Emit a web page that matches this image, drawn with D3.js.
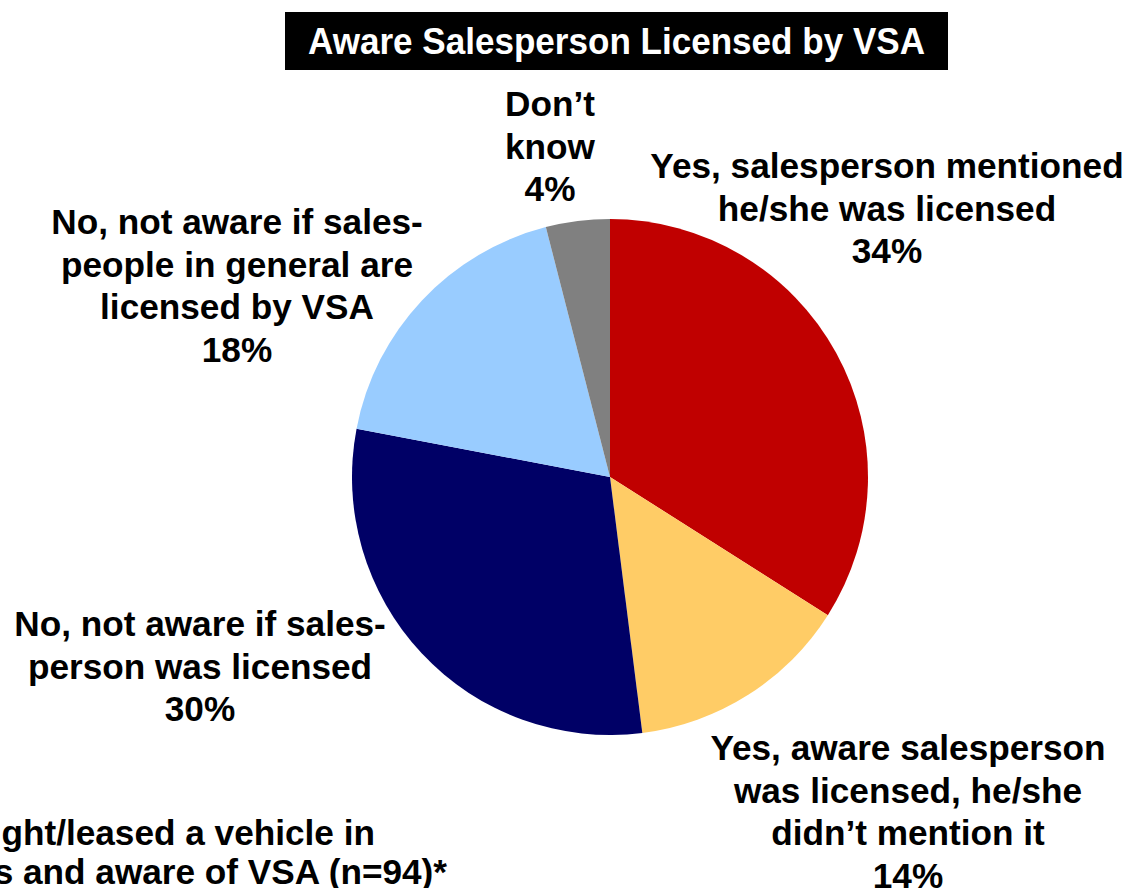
<!DOCTYPE html>
<html>
<head>
<meta charset="utf-8">
<script src="https://cdn.jsdelivr.net/npm/d3@7"></script>
<style>
  body { margin: 0; background: #fff; overflow: hidden; }
  text { font-family: "Liberation Sans", Arial, sans-serif; font-weight: bold; }
</style>
</head>
<body>
<div id="chart"></div>
<script>
// chart data
var categories = [
    "Yes, salesperson mentioned he/she was licensed",
    "Yes, aware salesperson was licensed, he/she didn't mention it",
    "No, not aware if salesperson was licensed",
    "No, not aware if salespeople in general are licensed by VSA",
    "Don't know"
];
var values = [34, 14, 30, 18, 4];
var colors = ["#c00000", "#ffcc66", "#000066", "#99ccff", "#808080"];
var labelLines = [
    ["Yes, salesperson mentioned", "he/she was licensed", "34%"],
    ["Yes, aware salesperson", "was licensed, he/she", "didn\u2019t mention it", "14%"],
    ["No, not aware if sales-", "person was licensed", "30%"],
    ["No, not aware if sales-", "people in general are", "licensed by VSA", "18%"],
    ["Don\u2019t", "know", "4%"]
];
var title = "Aware Salesperson Licensed by VSA";
var baseNote = ["Base: Bought/leased a vehicle in", "past 2 years and aware of VSA (n=94)*"];

var width = 1134, height = 888;
var cx = 610, cy = 477, radius = 258;
var lineH = 42.5;
var fontSize = 35.2;

// where each label block sits (center x, first line middle y)
var labelPos = [[887, 166], [908, 748], [200, 624], [237, 222], [550, 104]];

var svg = d3.select("#chart").append("svg")
    .attr("width", width)
    .attr("height", height);

// title box
svg.append("rect")
    .attr("x", 285).attr("y", 12)
    .attr("width", 663).attr("height", 58)
    .attr("fill", "#000");
svg.append("text")
    .attr("x", 616.5).attr("y", 41)
    .attr("dy", "0.35em")
    .attr("text-anchor", "middle")
    .attr("fill", "#fff")
    .attr("font-size", 36)
    .attr("textLength", 617)
    .attr("lengthAdjust", "spacingAndGlyphs")
    .text(title);

var pie = d3.pie().sort(null).value(function(d) { return d; });
var arc = d3.arc().innerRadius(0).outerRadius(radius);

var g = svg.append("g")
    .attr("transform", "translate(" + cx + "," + cy + ")");

g.selectAll("path.slice")
    .data(pie(values))
    .enter().append("path")
    .attr("class", "slice")
    .attr("d", arc)
    .attr("fill", function(d, i) { return colors[i]; });

// labels
var lbl = svg.selectAll("text.lbl")
    .data(labelLines)
    .enter().append("text")
    .attr("class", "lbl")
    .attr("text-anchor", "middle")
    .attr("font-size", fontSize)
    .attr("fill", "#000");

lbl.each(function(lines, i) {
    var t = d3.select(this);
    lines.forEach(function(s, k) {
        t.append("tspan")
            .attr("x", labelPos[i][0])
            .attr("y", labelPos[i][1] + k * lineH)
            .attr("dy", "0.35em")
            .text(s);
    });
});

// base note, runs off the left edge
var note = svg.append("text")
    .attr("text-anchor", "end")
    .attr("font-size", fontSize)
    .attr("fill", "#000");
note.append("tspan").attr("x", 375).attr("y", 833).attr("dy", "0.35em").text(baseNote[0]);
note.append("tspan").attr("x", 447).attr("y", 872).attr("dy", "0.35em").text(baseNote[1]);
</script>
</body>
</html>
